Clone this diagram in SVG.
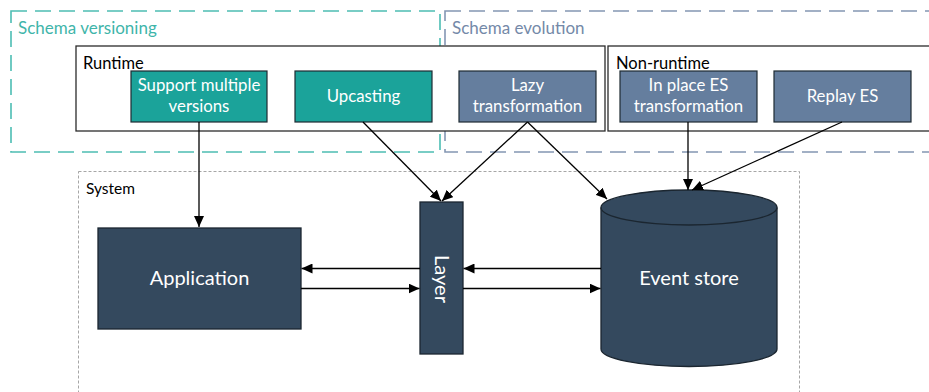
<svg xmlns="http://www.w3.org/2000/svg" width="929" height="392" viewBox="0 0 929 392">
  <defs>
    <marker id="arrow" viewBox="0 0 11 10" refX="11" refY="5" markerWidth="11" markerHeight="10" markerUnits="userSpaceOnUse" orient="auto">
      <path d="M0,0 L11,5 L0,10 z" fill="#000"/>
    </marker>
    <style>
      text { font-family: "Lato", "Liberation Sans", sans-serif; }
      .grp-v { fill: none; stroke: #4dbdb3; stroke-width: 1.6; stroke-dasharray: 16 8; }
      .grp-e { fill: none; stroke: #8496b3; stroke-width: 1.6; stroke-dasharray: 16 8; }
      .frame { fill: #fff; stroke: #2b2b2b; stroke-width: 1.3; }
      .sys { fill: none; stroke: #a6a6a6; stroke-width: 1; stroke-dasharray: 3 2; }
      .teal { fill: #1ba39a; stroke: #1e2b33; stroke-width: 1.2; }
      .slate { fill: #657e9e; stroke: #1e2b33; stroke-width: 1.2; }
      .navy { fill: #34495e; stroke: #1b2630; stroke-width: 1.3; }
      .lbl { fill: #fff; font-size: 16.8px; text-anchor: middle; }
      .big { fill: #fff; font-size: 20px; text-anchor: middle; }
      .cap { fill: #000; font-size: 16.5px; }
      .conn { stroke: #000; stroke-width: 1.3; fill: none; marker-end: url(#arrow); }
    </style>
  </defs>

  <!-- grouping frames -->
  <g id="schema-versioning">
    <rect class="grp-v" x="11" y="11" width="429" height="141"/>
    <text x="18" y="34" font-size="17" fill="#3fb5aa">Schema versioning</text>
  </g>
  <g id="schema-evolution">
    <rect class="grp-e" x="445" y="11" width="500" height="141"/>
    <text x="452" y="34" font-size="17" fill="#7489a8">Schema evolution</text>
  </g>
  <g id="runtime">
    <rect class="frame" x="76" y="46" width="529" height="85"/>
    <text class="cap" x="83" y="69">Runtime</text>
  </g>
  <g id="non-runtime">
    <rect class="frame" x="608" y="46" width="340" height="85"/>
    <text class="cap" x="616" y="69">Non-runtime</text>
  </g>
  <g id="system">
    <rect class="sys" x="78.5" y="171.5" width="721" height="240"/>
    <text class="cap" x="86" y="194" style="font-size:15.5px">System</text>
  </g>

  <!-- strategy nodes -->
  <g id="support-multiple-versions">
    <rect class="teal" x="131" y="71" width="136" height="51"/>
    <text class="lbl" x="199" y="91">Support multiple</text>
    <text class="lbl" x="199" y="112">versions</text>
  </g>
  <g id="upcasting">
    <rect class="teal" x="295" y="71" width="137" height="51"/>
    <text class="lbl" x="363.5" y="102">Upcasting</text>
  </g>
  <g id="lazy-transformation">
    <rect class="slate" x="459" y="71" width="137" height="51"/>
    <text class="lbl" x="527.5" y="91">Lazy</text>
    <text class="lbl" x="527.5" y="112">transformation</text>
  </g>
  <g id="in-place-es-transformation">
    <rect class="slate" x="620" y="71" width="137" height="51"/>
    <text class="lbl" x="688.5" y="91">In place ES</text>
    <text class="lbl" x="688.5" y="112">transformation</text>
  </g>
  <g id="replay-es">
    <rect class="slate" x="774" y="71" width="137" height="51"/>
    <text class="lbl" x="842.5" y="102">Replay ES</text>
  </g>

  <!-- system components -->
  <g id="application">
    <rect class="navy" x="98" y="228" width="203" height="101"/>
    <text class="big" x="199.5" y="285">Application</text>
  </g>
  <g id="layer">
    <rect class="navy" x="420" y="202" width="43" height="152"/>
    <text class="big" transform="translate(441.5,279) rotate(90)" y="7">Layer</text>
  </g>
  <g id="event-store">
    <path class="navy" d="M601,207.5 L601,349 A88,17.5 0 0 0 777,349 L777,207.5 A88,17.5 0 0 0 601,207.5 z"/>
    <path fill="none" stroke="#1b2630" stroke-width="1.3" d="M601,207.5 A88,17.5 0 0 0 777,207.5"/>
    <text class="big" x="689" y="285">Event store</text>
  </g>

  <!-- connectors -->
  <g id="connectors">
    <line class="conn" x1="199" y1="122" x2="199" y2="227"/>
    <line class="conn" x1="363" y1="122" x2="441" y2="201"/>
    <line class="conn" x1="527.5" y1="122" x2="442" y2="201"/>
    <line class="conn" x1="527.5" y1="122" x2="607" y2="199"/>
    <line class="conn" x1="688" y1="122" x2="688" y2="190"/>
    <line class="conn" x1="842" y1="122" x2="692" y2="190"/>
    <line class="conn" x1="420" y1="268.5" x2="301.5" y2="268.5"/>
    <line class="conn" x1="301" y1="288.5" x2="419.5" y2="288.5"/>
    <line class="conn" x1="601" y1="268.5" x2="463.5" y2="268.5"/>
    <line class="conn" x1="463" y1="288.5" x2="600.5" y2="288.5"/>
  </g>
</svg>
